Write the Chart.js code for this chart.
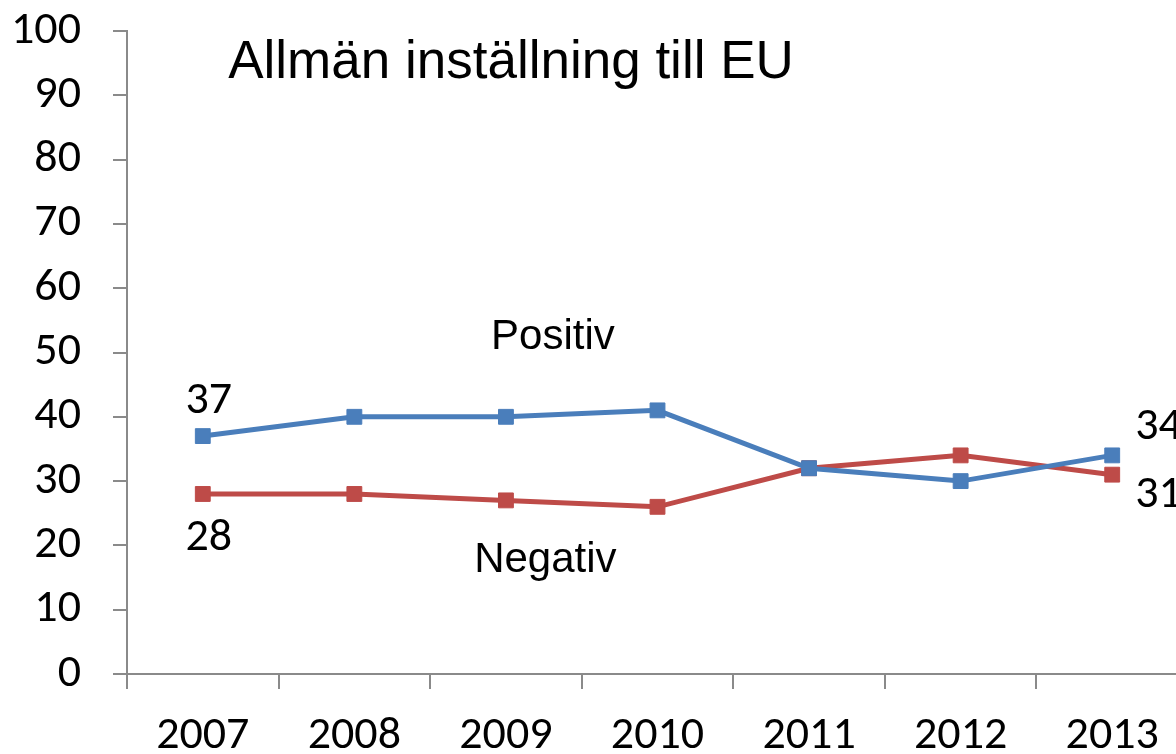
<!DOCTYPE html>
<html>
<head>
<meta charset="utf-8">
<script src="https://cdn.jsdelivr.net/npm/chart.js@4"></script>
<style>
  html, body { margin: 0; padding: 0; background: #fff; overflow: hidden; }
  #wrap { width: 1200px; height: 754px; }
</style>
</head>
<body>
<div id="wrap"><canvas id="eu_chart" width="1200" height="754"></canvas></div>
<script>
var years = ['2007', '2008', '2009', '2010', '2011', '2012', '2013'];
var positiv = [37, 40, 40, 41, 32, 30, 34];
var negativ = [28, 28, 27, 26, 32, 34, 31];
var y_ticks = [0, 10, 20, 30, 40, 50, 60, 70, 80, 90, 100];

var blue = '#4a7ebb';
var red = '#be4b48';
var axis_grey = '#8a8a8a';
var tick_font = "'Carlito', 'Open Sans', sans-serif";
var text_font = "'Liberation Sans', Arial, sans-serif";

// text drawn on top of the chart: title, series names and end labels
var annotations = {
    id: 'annotations',
    afterDatasetsDraw: function(chart) {
        var ctx = chart.ctx;
        var x = chart.scales.x;
        var y = chart.scales.y;
        var last = years.length - 1;
        ctx.save();
        ctx.fillStyle = '#000';

        ctx.font = '53px ' + text_font;
        ctx.textAlign = 'center';
        ctx.textBaseline = 'alphabetic';
        ctx.fillText('Allmän inställning till EU', 511, 78);

        ctx.font = '42px ' + text_font;
        ctx.textBaseline = 'middle';
        ctx.fillText('Positiv', x.getPixelForValue(2.31), y.getPixelForValue(52.3));
        ctx.fillText('Negativ', x.getPixelForValue(2.26), y.getPixelForValue(17.7));

        ctx.font = '46px ' + tick_font;
        ctx.fillText(positiv[0], x.getPixelForValue(0) + 6, y.getPixelForValue(positiv[0]) - 35);
        ctx.fillText(negativ[0], x.getPixelForValue(0) + 6, y.getPixelForValue(negativ[0]) + 45);
        ctx.textAlign = 'left';
        ctx.fillText(positiv[last], x.getPixelForValue(last) + 23, y.getPixelForValue(positiv[last]) - 28);
        ctx.fillText(negativ[last], x.getPixelForValue(last) + 23, y.getPixelForValue(negativ[last]) + 21);
        ctx.restore();
    }
};

function make_series(label, values, color) {
    return {
        label: label,
        data: values,
        borderColor: color,
        backgroundColor: color,
        borderWidth: 5,
        pointStyle: 'rect',
        pointRadius: 10.5,
        pointBorderWidth: 1,
        pointBackgroundColor: color,
        pointBorderColor: color,
        tension: 0
    };
}

var ctx = document.getElementById('eu_chart');
var chart = new Chart(ctx, {
    type: 'line',
    data: {
        labels: years,
        datasets: [make_series('Positiv', positiv, blue), make_series('Negativ', negativ, red)]
    },
    options: {
        responsive: false,
        animation: false,
        devicePixelRatio: 1,
        layout: { autoPadding: false, padding: { top: 31, right: 12, left: 0, bottom: 0 } },
        plugins: {
            legend: { display: false },
            tooltip: { enabled: false }
        },
        scales: {
            x: {
                offset: true,
                grid: { offset: true, drawOnChartArea: false, drawTicks: true, tickLength: 15, color: axis_grey, lineWidth: 2 },
                border: { display: true, color: axis_grey, width: 2 },
                ticks: { color: '#000', font: { family: tick_font, size: 46 }, padding: 20, maxRotation: 0 },
                afterFit: function(scale) { scale.height = 80; }
            },
            y: {
                min: 0,
                max: 100,
                afterBuildTicks: function(scale) { scale.ticks = y_ticks.map(function(v) { return { value: v }; }); },
                grid: { drawOnChartArea: false, drawTicks: true, tickLength: 14, color: axis_grey, lineWidth: 2 },
                border: { display: true, color: axis_grey, width: 2 },
                ticks: { color: '#000', font: { family: tick_font, size: 46 }, padding: 32 },
                afterFit: function(scale) {
                    scale.width = 127;
                    scale.paddingTop = 0;
                    scale.paddingBottom = 0;
                }
            }
        }
    },
    plugins: [annotations]
});
</script>
</body>
</html>
